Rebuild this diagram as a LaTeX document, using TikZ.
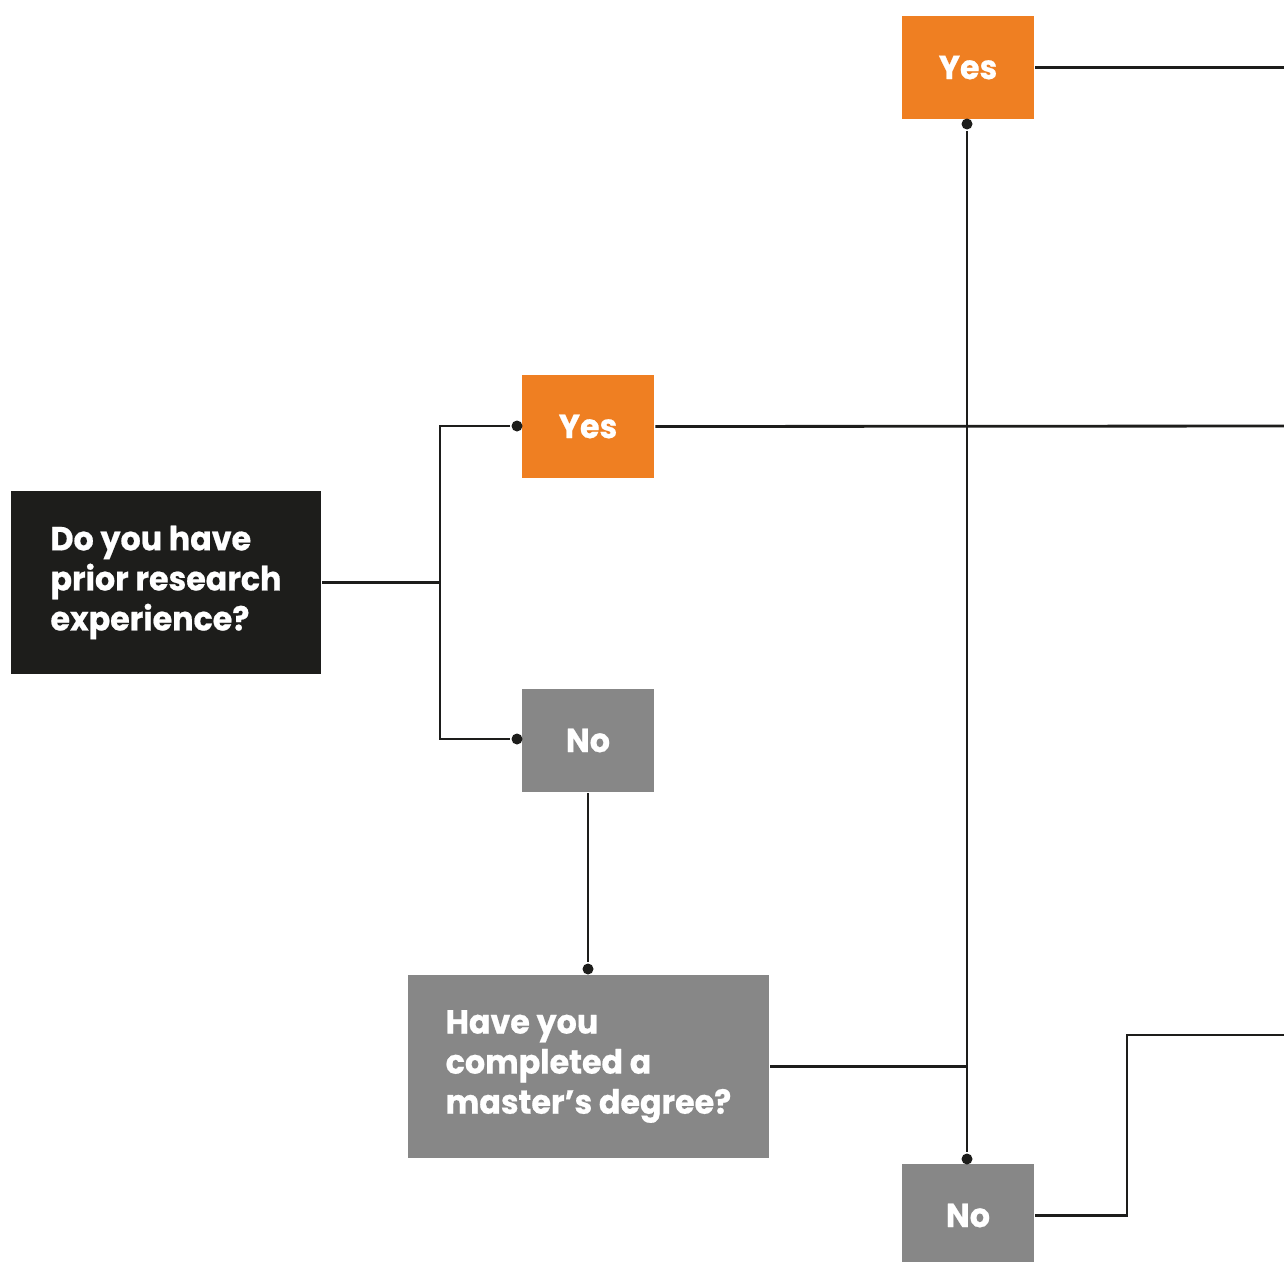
\documentclass[tikz,border=0pt]{standalone}
\usepackage{fontspec}
\newfontfamily\flowfont{Poppins}[FakeStretch=0.95,BoldFeatures={FakeBold=0.6}]
\definecolor{flowOrange}{HTML}{EF7F22}
\definecolor{flowGrey}{HTML}{878787}
\definecolor{flowBlack}{HTML}{1D1D1B}
\begin{document}
\begin{tikzpicture}[x=0.02cm,y=-0.02cm,line width=1.6pt,
    box/.style={minimum width=2.64cm,minimum height=2.06cm,inner sep=0pt,
      text=white,font=\flowfont\bfseries\fontsize{19}{22.8}\selectfont},
    yesbox/.style={box,fill=flowOrange},
    nobox/.style={box,fill=flowGrey},
    question/.style={text=white,align=left,inner sep=0pt,minimum width=6.2cm,
      minimum height=3.66cm,font=\flowfont\bfseries\fontsize{19}{22.8}\selectfont},
    dot/.style={circle,fill=flowBlack,inner sep=0pt,minimum size=0.22cm}]
  \clip (0,0) rectangle (1284,1261);
  % boxes
  \node[question,fill=flowBlack] (q1) at (166,582.5)
    {Do you have\\prior research\\experience?};
  \node[yesbox] (y1) at (588,426.5) {Yes};
  \node[nobox] (n1) at (588,740.5) {No};
  \node[question,fill=flowGrey,minimum width=7.22cm] (q2) at (588.5,1066.5)
    {Have you\\completed a\\master’s degree?};
  \node[yesbox] (y2) at (968,67.5) {Yes};
  \node[nobox] (n2) at (968,1215.5) {No};
  % joints
  \node[dot] (d1) at (517,426) {};
  \node[dot] (d2) at (517,739) {};
  \node[dot] (d3) at (588,969) {};
  \node[dot] (d4) at (967,124) {};
  \node[dot] (d5) at (967,1159) {};
  \coordinate (j1) at (440,582.5);
  \coordinate (k1) at (1127,1035);
  \coordinate (e1) at (1300,426);
  \coordinate (e2) at (1300,67.5);
  \coordinate (e3) at (1300,1035);
  \begin{scope}[draw=flowBlack]
    \draw (q1.east) -- (j1);
    \draw (j1) |- (d1);
    \draw (j1) |- (d2);
    \draw (y1.east) -- (e1);
    \draw (n1.south) -- (d3);
    \draw (d4) -- (d5);
    \draw (q2.east) -- (q2.east -| d4);
    \draw (y2.east) -- (e2);
    \draw (n2.east) -| (k1) -- (e3);
  \end{scope}
\end{tikzpicture}
\end{document}
